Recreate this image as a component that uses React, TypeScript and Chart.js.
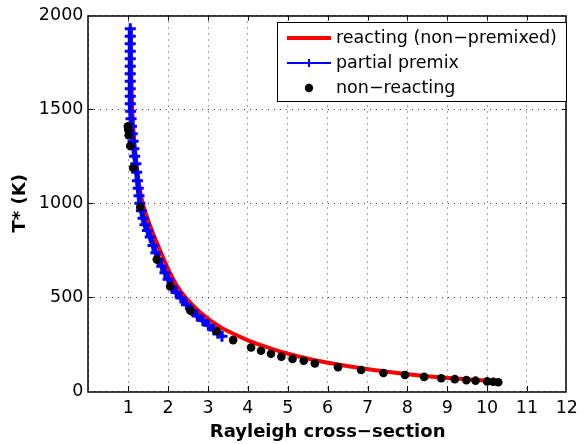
import React, { useEffect, useRef } from 'react';
import { Chart, registerables } from 'chart.js';

Chart.register(...registerables);

// ---- data ----
const reactingX = [1.06, 1.07, 1.08, 1.10, 1.14, 1.20, 1.28, 1.36, 1.48, 1.62, 1.76, 1.89, 2.05, 2.22, 2.45, 2.76, 3.05, 3.43, 4.00, 4.25, 4.82, 5.65, 6.48, 7.30, 8.13, 8.95, 9.78, 10.06];
const reactingT = [1920, 1800, 1650, 1500, 1360, 1220, 1087, 1000, 920, 840, 768, 703, 628, 560, 495, 427, 378, 326, 270, 250, 209, 165, 133, 108, 87, 71, 58, 55];

const premixX = [1.05, 1.05, 1.05, 1.05, 1.05, 1.05, 1.05, 1.05, 1.05, 1.05, 1.05, 1.06, 1.07, 1.08, 1.10, 1.12, 1.14, 1.16, 1.19, 1.21, 1.23, 1.25, 1.27, 1.29, 1.33, 1.37, 1.42, 1.48, 1.55, 1.62, 1.69, 1.76, 1.84, 1.92, 2.00, 2.09, 2.20, 2.32, 2.46, 2.60, 2.73, 2.87, 3.01, 3.15, 3.25, 3.35];
const premixT = [1930, 1890, 1850, 1810, 1770, 1730, 1690, 1650, 1610, 1570, 1530, 1490, 1450, 1410, 1370, 1330, 1290, 1250, 1210, 1165, 1120, 1080, 1040, 1000, 960, 920, 885, 855, 820, 775, 737, 700, 665, 630, 595, 557, 525, 495, 460, 427, 400, 375, 350, 325, 308, 292];

const nonReactX = [0.99, 1.00, 1.01, 1.05, 1.12, 1.30, 1.715, 2.05, 2.56, 3.22, 3.63, 4.08, 4.33, 4.58, 4.84, 5.12, 5.40, 5.68, 6.26, 6.84, 7.40, 7.94, 8.42, 8.85, 9.19, 9.48, 9.71, 10.00, 10.15, 10.28];
const nonReactT = [1410, 1392, 1362, 1305, 1188, 980, 700, 557, 427, 318, 271, 232, 214, 198, 183, 171, 161, 147, 127, 112, 96, 85, 75, 68, 63, 58, 55, 51, 49, 47];

const xTickLabels = ['1', '2', '3', '4', '5', '6', '7', '8', '9', '10', '11', '12'];
const yTickValues = [0, 500, 1000, 1500, 2000];
const legendLabels = ['reacting (non\u2212premixed)', 'partial premix', 'non\u2212reacting'];
const xTitle = 'Rayleigh cross\u2212section';
const yTitle = 'T* (K)';

const FONT = '"DejaVu Sans", "Liberation Sans", Arial, sans-serif';

const toPoints = (xs: number[], ys: number[]) => xs.map((x, i) => ({ x, y: ys[i] }));

const framePlugin = {
  id: 'frameAndLegend',
  afterDatasetsDraw(chart: any) {
    const { ctx, chartArea: a, scales } = chart;
    const xs = scales.x;
    const ys = scales.y;
    ctx.save();
    ctx.strokeStyle = '#000';
    ctx.lineWidth = 1;
    const tl = 5;
    ctx.beginPath();
    for (let v = 1; v <= 11; v++) {
      const px = Math.round(xs.getPixelForValue(v)) + 0.5;
      ctx.moveTo(px, a.bottom);
      ctx.lineTo(px, a.bottom - tl);
      ctx.moveTo(px, a.top);
      ctx.lineTo(px, a.top + tl);
    }
    for (const v of yTickValues) {
      if (v === 0 || v === 2000) continue;
      const py = Math.round(ys.getPixelForValue(v)) + 0.5;
      ctx.moveTo(a.left, py);
      ctx.lineTo(a.left + tl, py);
      ctx.moveTo(a.right, py);
      ctx.lineTo(a.right - tl, py);
    }
    ctx.stroke();
    ctx.lineWidth = 1.5;
    ctx.strokeRect(Math.round(a.left), Math.round(a.top), Math.round(a.right - a.left), Math.round(a.bottom - a.top));

    // legend
    const bx = 277.5, by = 22.5, bw = 289, bh = 79;
    ctx.fillStyle = '#fff';
    ctx.fillRect(bx, by, bw, bh);
    ctx.lineWidth = 1;
    ctx.strokeStyle = '#000';
    ctx.strokeRect(bx, by, bw, bh);
    const rows = [38, 63, 88];
    const lx0 = 287, lx1 = 331, lxc = 309;
    ctx.strokeStyle = '#ff0000';
    ctx.lineWidth = 4;
    ctx.beginPath();
    ctx.moveTo(lx0, rows[0]);
    ctx.lineTo(lx1, rows[0]);
    ctx.stroke();
    ctx.strokeStyle = '#0000ff';
    ctx.lineWidth = 2;
    ctx.beginPath();
    ctx.moveTo(lx0, rows[1]);
    ctx.lineTo(lx1, rows[1]);
    ctx.moveTo(lxc, rows[1] - 4);
    ctx.lineTo(lxc, rows[1] + 4);
    ctx.stroke();
    ctx.fillStyle = '#000';
    ctx.beginPath();
    ctx.arc(lxc, rows[2], 4.2, 0, Math.PI * 2);
    ctx.fill();
    ctx.font = `17.5px ${FONT}`;
    ctx.textBaseline = 'middle';
    ctx.textAlign = 'left';
    legendLabels.forEach((t, i) => ctx.fillText(t, 336, rows[i]));
    ctx.restore();
  },
};

export default function App() {
  const ref = useRef<HTMLCanvasElement>(null);
  useEffect(() => {
    if (!ref.current) return;
    const chart = new Chart(ref.current, {
      type: 'scatter',
      data: {
        datasets: [
          {
            label: legendLabels[0],
            data: toPoints(reactingX, reactingT),
            showLine: true,
            borderColor: '#ff0000',
            backgroundColor: '#ff0000',
            borderWidth: 4,
            pointRadius: 0,
            tension: 0.3,
            order: 2,
          },
          {
            label: legendLabels[1],
            data: toPoints(premixX, premixT),
            showLine: true,
            borderColor: '#0000ff',
            backgroundColor: '#0000ff',
            borderWidth: 5,
            pointStyle: 'cross',
            pointRadius: 5.5,
            pointBorderWidth: 3,
            pointBorderColor: '#0000ff',
            tension: 0.3,
            order: 1,
          },
          {
            label: legendLabels[2],
            data: toPoints(nonReactX, nonReactT),
            showLine: false,
            borderColor: '#000',
            backgroundColor: '#000',
            pointStyle: 'circle',
            pointRadius: 4.3,
            pointBorderWidth: 0,
            order: 0,
          },
        ] as any,
      },
      options: {
        animation: false,
        responsive: false,
        devicePixelRatio: 1,
        events: [],
        layout: { padding: { top: 15, right: 12, left: 0, bottom: 0 } },
        plugins: { legend: { display: false }, tooltip: { enabled: false } },
        scales: {
          x: {
            type: 'linear',
            min: 0,
            max: 12,
            afterFit: (s: any) => { s.height = 53; },
            ticks: {
              stepSize: 1,
              padding: 7,
              color: '#000',
              font: { family: FONT, size: 17.5 },
              callback: (v: any) => (v >= 1 && v <= 12 ? xTickLabels[v - 1] : ''),
              maxRotation: 0,
              autoSkip: false,
            },
            grid: { color: '#444', lineWidth: 1, drawTicks: false },
            border: { display: false, dash: [1, 5] },
            title: {
              display: true,
              text: xTitle,
              color: '#000',
              font: { family: FONT, size: 18, weight: 'bold' },
              padding: { top: 0, bottom: 1 },
            },
          },
          y: {
            type: 'linear',
            min: 0,
            max: 2000,
            afterFit: (s: any) => { s.width = 88.4; },
            ticks: {
              stepSize: 500,
              padding: 5,
              color: '#000',
              font: { family: FONT, size: 17.5 },
              callback: (v: any) => String(v),
            },
            grid: { color: '#444', lineWidth: 1, drawTicks: false },
            border: { display: false, dash: [1, 5] },
            title: {
              display: true,
              text: yTitle,
              color: '#000',
              font: { family: FONT, size: 18, weight: 'bold' },
              padding: { top: 10, bottom: 0 },
            },
          },
        },
      } as any,
      plugins: [framePlugin],
    });
    return () => chart.destroy();
  }, []);
  return (
    <div style={{ position: 'absolute', left: 0, top: 0, width: 585, height: 444, background: '#fff' }}>
      <canvas ref={ref} width={585} height={444} />
    </div>
  );
}
